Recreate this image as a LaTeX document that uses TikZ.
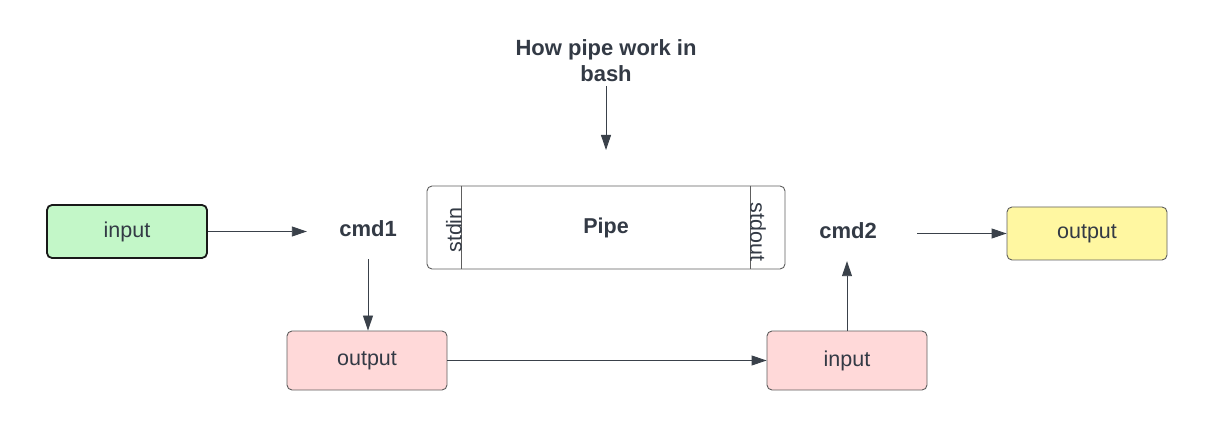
\documentclass[tikz,border=0pt]{standalone}
\usepackage{fontspec}
\setmainfont{Liberation Sans}
\usetikzlibrary{arrows.meta,calc}
\definecolor{txt}{HTML}{333A45}
\definecolor{ln}{HTML}{3A414A}
\definecolor{bd}{HTML}{5E5E5E}
\definecolor{gfill}{HTML}{C3F7C8}
\definecolor{pfill}{HTML}{FFD9D9}
\definecolor{yfill}{HTML}{FFF7A1}
\tikzset{
  box/.style={rounded corners=5pt, minimum width=160pt, text=txt,
    font=\fontsize{21.5}{24}\selectfont, draw=bd, line width=0.9pt},
  lbl/.style={text=txt, font=\bfseries\fontsize{22}{26}\selectfont},
  side/.style={text=txt, font=\fontsize{21.5}{24}\selectfont, inner sep=0pt},
  arr/.style={draw=ln, line width=0.9pt, -{Triangle[length=15pt,width=10pt]}}
}
\begin{document}
\begin{tikzpicture}[x=1pt,y=-1pt]
\useasboundingbox (0,0) rectangle (1218,438);
% boxes
\node[box, fill=gfill, draw=black!90, line width=1.8pt, minimum height=53pt] (in1) at (127,231.5) {input};
\node[box, fill=pfill, minimum height=59pt] (out1) at (367,360.5) {output};
\node[box, fill=pfill, minimum height=59pt] (in2) at (847,360.5) {input};
\node[box, fill=yfill, minimum height=53pt] (out2) at (1087,233.5) {output};
% labels
\node[lbl, minimum width=122pt, minimum height=60pt] (cmd1) at (368,229) {cmd1};
\node[lbl, minimum width=138pt, minimum height=60pt] (cmd2) at (848,231) {cmd2};
\node[lbl, align=center, inner sep=4pt] (title) at (606,61) {How pipe work in\\bash};
\coordinate (tend) at (606,150);
% pipe
\node[draw=bd, line width=0.9pt, rounded corners=5pt, minimum width=358pt, minimum height=83pt,
  text=txt, font=\bfseries\fontsize{21.5}{24}\selectfont] (pipe) at (606,227.5) {Pipe};
\draw[draw=bd, line width=0.9pt] ($(pipe.north west)+(35,0)$) coordinate (d1) -- (d1 |- pipe.south);
\draw[draw=bd, line width=0.9pt] ($(pipe.north east)+(-35,0)$) coordinate (d2) -- (d2 |- pipe.south);
\node[side, rotate=90] (sin) at (454,230) {stdin};
\node[side, rotate=-90] (sout) at (758,232) {stdout};
% connectors
\draw[arr] (in1.east) -- (cmd1.west |- in1.east);
\draw[arr] (cmd1.south) -- (cmd1.south |- out1.north);
\draw[arr] (out1.east) -- (in2.west);
\draw[arr] (in2.north) -- (in2.north |- cmd2.south);
\draw[arr] (cmd2.east |- out2.west) -- (out2.west);
\draw[arr] (title.south) -- (tend);
\end{tikzpicture}
\end{document}
